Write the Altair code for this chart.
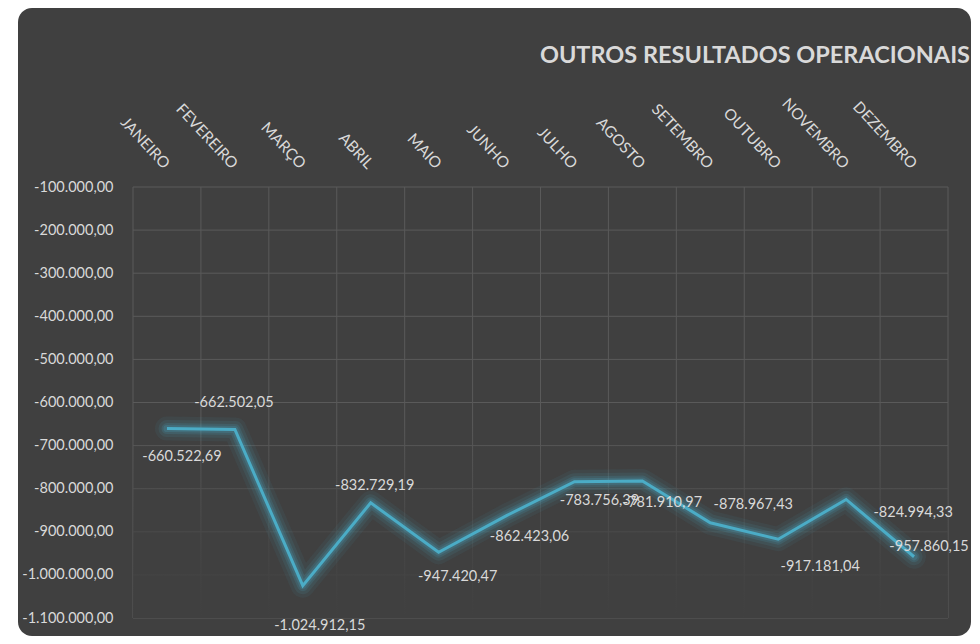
import altair as alt
import pandas as pd

# ---------------- data ----------------
months = ["JANEIRO", "FEVEREIRO", "MARÇO", "ABRIL", "MAIO", "JUNHO",
          "JULHO", "AGOSTO", "SETEMBRO", "OUTUBRO", "NOVEMBRO", "DEZEMBRO"]
values = [-660522.69, -662502.05, -1024912.15, -832729.19, -947420.47, -862423.06,
          -783756.39, -781910.97, -878967.43, -917181.04, -824994.33, -957860.15]
y_ticks = [-100000, -200000, -300000, -400000, -500000, -600000,
           -700000, -800000, -900000, -1000000, -1100000]
y_domain = [-1100000, -100000]
title_text = "OUTROS RESULTADOS OPERACIONAIS"

# ---------------- style ----------------
BG = "#404040"
GRID = "#5a5a5a"
LINE = "#4bacc6"
TEXT = "#d9d9d9"
FONT = "Lato"
W, H = 815, 431

# label offsets (px) relative to each data point
LABEL_OFFSETS = {
    "JANEIRO": (15, 28), "FEVEREIRO": (-1, -26), "MARÇO": (17, 40),
    "ABRIL": (4, -17), "MAIO": (19, 25), "JUNHO": (23, 21),
    "JULHO": (25, 19), "AGOSTO": (20, 22), "SETEMBRO": (43, -18),
    "OUTUBRO": (42, 28), "NOVEMBRO": (67, 14), "DEZEMBRO": (15, -10),
}


def br(v):
    s = f"{v:,.2f}"
    return s.replace(",", "#").replace(".", ",").replace("#", ".")


df = pd.DataFrame({"month": months, "value": values,
                   "label": [br(v) for v in values]})
ticks_df = pd.DataFrame({"value": y_ticks})
one = pd.DataFrame({"k": [0]})

x_scale = alt.Scale(type="band", paddingInner=0, paddingOuter=0)
y_scale = alt.Scale(domain=y_domain, nice=False, zero=False)

label_expr = ("(datum.value < 0 ? '-' : '') + replace(replace(replace("
              "format(abs(datum.value), ',.2f'), regexp(',', 'g'), '#'), "
              "regexp('[.]', 'g'), ','), regexp('#', 'g'), '.')")

x_axis = alt.Axis(orient="top", labelAngle=47, labelAlign="right",
                  labelBaseline="middle", labelPadding=21,
                  labelFont=FONT, labelFontSize=15.5, labelColor=TEXT,
                  ticks=False, domain=False, grid=False, labelOverlap=False,
                  title=None, zindex=1)
y_axis = alt.Axis(values=y_ticks, labelExpr=label_expr, labelPadding=20,
                  labelFont=FONT, labelFontSize=14.5, labelColor=TEXT,
                  ticks=False, domain=False, grid=False, labelOverlap=False,
                  title=None, zindex=1)


def X(**kw):
    return alt.X("month:N", sort=months, scale=x_scale, axis=x_axis, **kw)


def Y():
    return alt.Y("value:Q", scale=y_scale, axis=y_axis)


# rounded dark panel behind everything
panel = alt.Chart(one).mark_rect(color=BG, cornerRadius=14).encode(
    x=alt.value(-115), x2=alt.value(838), y=alt.value(-179), y2=alt.value(449)
)

hgrid = alt.Chart(ticks_df).mark_rule(color=GRID, strokeWidth=1).encode(y=Y())
vgrid = alt.Chart(df).mark_rule(color=GRID, strokeWidth=1).encode(x=X(bandPosition=0))
vgrid_end = alt.Chart(df).transform_filter(
    alt.datum.month == months[-1]
).mark_rule(color=GRID, strokeWidth=1).encode(x=X(bandPosition=1))

fade = alt.Chart(one).mark_rect(
    fill=alt.LinearGradient(
        gradient="linear", x1=0, x2=0, y1=0, y2=1,
        stops=[alt.GradientStop(offset=0, color="rgba(64,64,64,0)"),
               alt.GradientStop(offset=0.55, color="rgba(64,64,64,0)"),
               alt.GradientStop(offset=0.85, color="rgba(64,64,64,0.75)"),
               alt.GradientStop(offset=1, color="rgba(64,64,64,1)")]
    )
).encode(x=alt.value(0), x2=alt.value("width"), y=alt.value(0), y2=alt.value("height"))

glows = [
    alt.Chart(df).mark_line(color=LINE, strokeWidth=sw, opacity=op,
                            strokeJoin="round", strokeCap="round").encode(x=X(), y=Y())
    for sw, op in [(24, 0.07), (17, 0.10), (11, 0.15), (7, 0.2)]
]

line = alt.Chart(df).mark_line(color=LINE, strokeWidth=3).encode(x=X(), y=Y())

labels = [
    alt.Chart(df).transform_filter(alt.datum.month == m).mark_text(
        dx=dx, dy=dy, font=FONT, fontSize=14.5, color=TEXT,
        align="center", baseline="middle"
    ).encode(x=X(), y=Y(), text="label:N")
    for m, (dx, dy) in LABEL_OFFSETS.items()
]

chart = alt.layer(panel, hgrid, vgrid, vgrid_end, fade, *glows, line, *labels).properties(
    width=W, height=H,
    title=alt.Title(title_text, anchor="end", frame="group", orient="top",
                    dx=22, offset=-59, font=FONT, fontSize=23.5,
                    fontWeight="bold", color=TEXT),
    autosize=alt.AutoSizeParams(type="none"),
    padding={"left": 125, "top": 179, "right": 24, "bottom": 18},
    background="white",
).configure_view(stroke=None)

chart.save("out.html", embed_options={"renderer": "svg", "actions": False})
